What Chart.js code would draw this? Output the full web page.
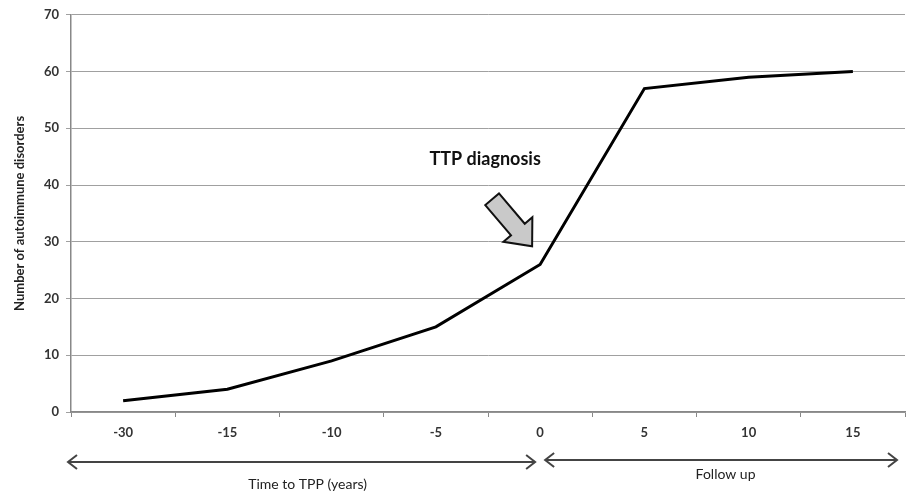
<!DOCTYPE html>
<html>
<head>
<meta charset="utf-8">
<script src="https://cdn.jsdelivr.net/npm/chart.js@4"></script>
<style>
html,body{margin:0;padding:0;background:#fff;}
#wrap{width:907px;height:495px;position:relative;}
</style>
</head>
<body>
<div id="wrap"><canvas id="c" width="907" height="495"></canvas></div>
<script>
const categories = ['-30', '-15', '-10', '-5', '0', '5', '10', '15'];
const disorders = [2, 4, 9, 15, 26, 57, 59, 60];
const yTicks = [0, 10, 20, 30, 40, 50, 60, 70];
const annotationText = 'TTP diagnosis';
const leftSpanLabel = 'Time to TPP (years)';
const rightSpanLabel = 'Follow up';
const yTitle = 'Number of autoimmune disorders';

const FONT = 'Lato, "Open Sans", sans-serif';

function drawArrowShape(ctx, x1, y1, x2, y2, shaftW, headW, headL) {
  const dx = x2 - x1, dy = y2 - y1;
  const len = Math.hypot(dx, dy);
  const ux = dx / len, uy = dy / len;
  const px = -uy, py = ux;
  const bx = x2 - ux * headL, by = y2 - uy * headL;
  const pts = [
    [x1 + px * shaftW / 2, y1 + py * shaftW / 2],
    [bx + px * shaftW / 2, by + py * shaftW / 2],
    [bx + px * headW / 2, by + py * headW / 2],
    [x2, y2],
    [bx - px * headW / 2, by - py * headW / 2],
    [bx - px * shaftW / 2, by - py * shaftW / 2],
    [x1 - px * shaftW / 2, y1 - py * shaftW / 2]
  ];
  ctx.beginPath();
  ctx.moveTo(pts[0][0], pts[0][1]);
  for (let i = 1; i < pts.length; i++) ctx.lineTo(pts[i][0], pts[i][1]);
  ctx.closePath();
  ctx.fillStyle = '#c9c9c9';
  ctx.fill();
  ctx.lineWidth = 2;
  ctx.strokeStyle = '#111';
  ctx.lineJoin = 'miter';
  ctx.stroke();
}

function doubleArrow(ctx, xa, xb, y) {
  ctx.save();
  ctx.strokeStyle = '#444';
  ctx.lineWidth = 2;
  ctx.beginPath();
  ctx.moveTo(xa, y); ctx.lineTo(xb, y);
  ctx.moveTo(xa + 9, y - 7); ctx.lineTo(xa, y); ctx.lineTo(xa + 9, y + 7);
  ctx.moveTo(xb - 9, y - 7); ctx.lineTo(xb, y); ctx.lineTo(xb - 9, y + 7);
  ctx.stroke();
  ctx.restore();
}

const annotations = {
  id: 'annotations',
  afterDatasetsDraw(chart) {
    const ctx = chart.ctx;
    const xs = chart.scales.x, ys = chart.scales.y;
    const x0 = xs.getPixelForValue(4);
    ctx.save();
    ctx.fillStyle = '#111';
    ctx.font = 'bold 18px ' + FONT;
    ctx.textAlign = 'center';
    ctx.textBaseline = 'middle';
    ctx.fillText(annotationText, x0 - 55, ys.getPixelForValue(44.5));
    drawArrowShape(ctx, x0 - 48, ys.getPixelForValue(37.5), x0 - 8, ys.getPixelForValue(29.2), 18, 38, 22);
    doubleArrow(ctx, xs.left - 3, x0 - 5, 462);
    doubleArrow(ctx, x0 + 5, xs.right - 8, 460);
    ctx.fillStyle = '#222';
    ctx.font = '14px ' + FONT;
    ctx.textBaseline = 'middle';
    ctx.fillText(leftSpanLabel, (xs.left + x0) / 2 + 2, 484);
    ctx.fillText(rightSpanLabel, (x0 + xs.right) / 2 + 3, 474);
    ctx.restore();
  }
};

new Chart(document.getElementById('c'), {
  type: 'line',
  data: {
    labels: categories,
    datasets: [{
      data: disorders,
      borderColor: '#000',
      borderWidth: 3,
      pointRadius: 0,
      tension: 0,
      fill: false
    }]
  },
  options: {
    responsive: false,
    animation: false,
    events: [],
    layout: { padding: { top: 13, right: 2, left: 0, bottom: 0 } },
    plugins: { legend: { display: false }, tooltip: { enabled: false } },
    scales: {
      x: {
        offset: true,
        grid: { offset: true, drawOnChartArea: false, drawTicks: true, tickLength: 5, color: '#888', lineWidth: 1 },
        border: { color: '#888', width: 1.5 },
        ticks: { color: '#333', font: { family: FONT, size: 13, weight: 'bold' }, padding: 8, maxRotation: 0 },
        afterFit(s) { s.height = 83; }
      },
      y: {
        min: 0, max: 70,
        afterBuildTicks(s) { s.ticks = yTicks.map(v => ({ value: v })); },
        grid: { color: '#a0a0a0', lineWidth: 1, tickLength: 5, drawTicks: true },
        border: { color: '#888', width: 1.5 },
        ticks: { color: '#333', font: { family: FONT, size: 13, weight: 'bold' }, padding: 7 },
        title: { display: true, text: yTitle, color: '#222', font: { family: FONT, size: 13, weight: 'bold' }, padding: { top: 12, bottom: 4 } },
        afterFit(s) { s.width = 71; }
      }
    }
  },
  plugins: [annotations]
});
</script>
</body>
</html>
